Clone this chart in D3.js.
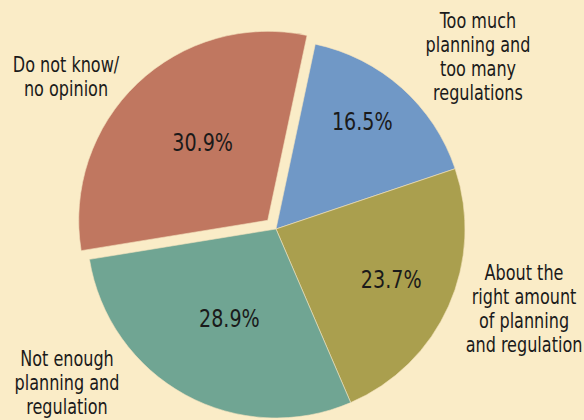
<!DOCTYPE html>
<html>
<head>
<meta charset="utf-8">
<script src="https://cdn.jsdelivr.net/npm/d3@7"></script>
<style>
  body { margin: 0; background: #faecc7; }
  svg { display: block; }
  text { font-family: "DejaVu Sans Condensed", "DejaVu Sans", sans-serif; fill: #1a1a1a; }
</style>
</head>
<body>
<div id="chart"></div>
<script>
// data
let categories = [
  "Too much planning and too many regulations",
  "About the right amount of planning and regulation",
  "Not enough planning and regulation",
  "Do not know/ no opinion"
];
let values = [16.5, 23.7, 28.9, 30.9];
let labelLines = [
  ["Too much", "planning and", "too many", "regulations"],
  ["About the", "right amount", "of planning", "and regulation"],
  ["Not enough", "planning and", "regulation"],
  ["Do not know/", "no opinion"]
];
let colors = ["#7098c6", "#aa9f4e", "#70a593", "#c07760"];

// svg size
let svgWidth = 584;
let svgHeight = 420;
let cx = 276, cy = 229, radius = 189;
let explodeIndex = 3, explodeDist = 12;
let squeeze = 0.85; // horizontal squeeze to mimic a condensed face

// label layout (centre x, first line y) and percent label placement
let labelAnchor = [[478, 28], [524, 280], [67, 366], [66, 72]];
let pctRadius = [0.73, 0.665, 0.53, 0.54];
let pctShift = [-3, -0.5, -1, 4]; // degrees

let svg = d3.select("#chart")
  .append("svg")
  .attr("width", svgWidth)
  .attr("height", svgHeight);

svg.append("rect")
  .attr("width", svgWidth)
  .attr("height", svgHeight)
  .attr("fill", "#faecc7");

let pie = d3.pie()
  .sort(null)
  .value(d => d)
  .startAngle(12 * Math.PI / 180)
  .endAngle(12 * Math.PI / 180 + 2 * Math.PI);

let arcs = pie(values);
let arc = d3.arc().innerRadius(0).outerRadius(radius);

let pieGroup = svg.append("g")
  .attr("transform", `translate(${cx}, ${cy})`);

// slice offset (only the exploded one moves)
function offset(d, i) {
  if (i !== explodeIndex) return [0, 0];
  let a = (d.startAngle + d.endAngle) / 2;
  return [Math.sin(a) * explodeDist, -Math.cos(a) * explodeDist];
}

let slices = pieGroup.selectAll("g.slice")
  .data(arcs)
  .enter()
  .append("g")
  .attr("class", "slice")
  .attr("transform", (d, i) => `translate(${offset(d, i)})`);

slices.append("path")
  .attr("d", arc)
  .attr("fill", (d, i) => colors[i])
  .attr("stroke", "#f3e3bd")
  .attr("stroke-width", 0.6);

// percent labels
slices.append("text")
  .attr("transform", (d, i) => {
    let a = (d.startAngle + d.endAngle) / 2 + pctShift[i] * Math.PI / 180;
    let r = radius * pctRadius[i];
    return `translate(${Math.sin(a) * r}, ${-Math.cos(a) * r}) scale(${squeeze}, 1)`;
  })
  .attr("text-anchor", "middle")
  .attr("dy", "0.36em")
  .attr("font-size", 25)
  .text(d => d.value.toFixed(1) + "%");

// category labels
labelLines.forEach(function(lines, i) {
  let t = svg.append("text")
    .attr("transform", `translate(${labelAnchor[i][0]}, 0) scale(${squeeze}, 1)`)
    .attr("text-anchor", "middle")
    .attr("font-size", 21);
  lines.forEach(function(line, j) {
    t.append("tspan")
      .attr("x", 0)
      .attr("y", labelAnchor[i][1] + j * 24)
      .text(line);
  });
});
</script>
</body>
</html>
